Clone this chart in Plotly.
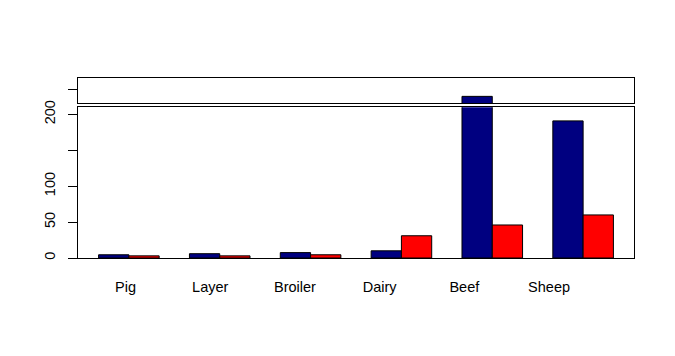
import numpy as np
import plotly.graph_objects as go

categories = ["Pig", "Layer", "Broiler", "Dairy", "Beef", "Sheep"]
series_blue = [4.5, 6, 7.5, 10, 220, 191]
series_red = [3, 3, 4.5, 31, 46, 60]
y_ticks = [0, 50, 100, 150, 200]
y_tick_labels = ["0", "50", "100", "", "200"]

n = len(categories)
xb = 1.5 + 3 * np.arange(n)
xr = 2.5 + 3 * np.arange(n)
label_pos = 1.89 + 2.797 * np.arange(n)
xrange = [0.32, 18.68]

FONT = "Liberation Sans, Arial, sans-serif"
BLUE = "#000080"
RED = "#FF0000"

fig = go.Figure()
for ya, xa in (("y", "x"), ("y2", "x2")):
    fig.add_trace(go.Bar(x=xb, y=series_blue, width=1, marker=dict(color=BLUE, line=dict(color="black", width=1)),
                         xaxis=xa, yaxis=ya, showlegend=False, hoverinfo="skip"))
    fig.add_trace(go.Bar(x=xr, y=series_red, width=1, marker=dict(color=RED, line=dict(color="black", width=1)),
                         xaxis=xa, yaxis=ya, showlegend=False, hoverinfo="skip"))

axis_common = dict(showline=True, linecolor="black", linewidth=1, mirror=True, showgrid=False,
                   zeroline=False, automargin=False)

fig.update_layout(
    width=675, height=356,
    margin=dict(l=70, r=49, t=70, b=106),
    paper_bgcolor="white", plot_bgcolor="white",
    barmode="overlay",
    font=dict(family=FONT, size=14.5, color="black"),
    xaxis=dict(range=xrange, domain=[0, 1], anchor="y", tickvals=label_pos, ticktext=categories,
               ticks="", ticklabelstandoff=16, **axis_common),
    yaxis=dict(range=[0, 210], domain=[0, 0.8375], anchor="x", tickvals=y_ticks, ticktext=y_tick_labels,
               ticks="outside", ticklen=9, tickcolor="black", tickangle=-90, ticklabelstandoff=7, **axis_common),
    xaxis2=dict(range=xrange, domain=[0, 1], anchor="y2", showticklabels=False, ticks="", **axis_common),
    yaxis2=dict(range=[214, 236], domain=[0.8597, 1], anchor="x2", tickvals=[226], ticktext=[""],
                ticks="outside", ticklen=9, tickcolor="black", **axis_common),
)

fig.write_html("out.html")
